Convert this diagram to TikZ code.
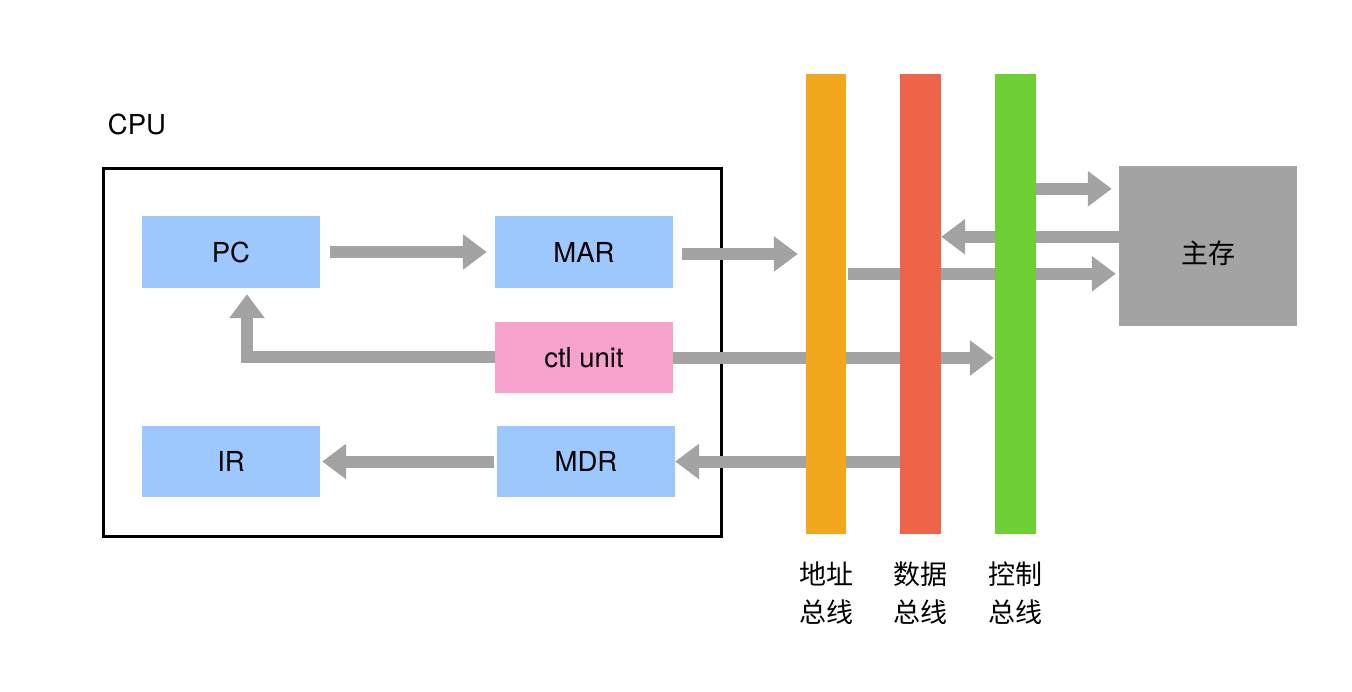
\documentclass[tikz,border=0pt]{standalone}
\usepackage{fontspec}
\setmainfont{TeX Gyre Heros}
\newfontfamily\cjk{Noto Sans CJK SC}
\usetikzlibrary{arrows.meta,calc}
\definecolor{regblue}{HTML}{9CC8FE}
\definecolor{ctlpink}{HTML}{F5A3CC}
\definecolor{busorange}{HTML}{F2A81D}
\definecolor{busred}{HTML}{EE6449}
\definecolor{busgreen}{HTML}{6DCF33}
\definecolor{arrgray}{HTML}{A3A3A3}
\begin{document}
\begin{tikzpicture}[x=1pt,y=-1pt,
  txt/.style={font=\fontsize{27.5}{31}\selectfont},
  reg/.style={draw=none, fill=regblue, minimum width=178pt, minimum height=72pt, inner sep=0pt, txt},
  bus/.style={draw=none, minimum width=40pt, minimum height=460pt, inner sep=0pt},
  arr/.style={draw=arrgray, line width=12pt, -{Triangle[length=24pt,width=34pt]}},
  lbl/.style={font=\fontsize{27}{38}\selectfont\cjk, align=center, inner sep=0pt}
]
\useasboundingbox (0,0) rectangle (1352,692);
\fill[white] (0,0) rectangle (1352,692);

% CPU frame
\node[draw, line width=3pt, minimum width=618.5pt, minimum height=367pt, inner sep=0pt] (cpu) at (412.25,352.5) {};
\node[txt, inner sep=0pt] (cpulbl) at (137,124) {CPU};

% registers
\node[reg] (PC) at (231,252) {PC};
\node[reg] (MAR) at (584,252) {MAR};
\node[reg, fill=ctlpink, minimum height=71pt] (ctl) at (584,357.5) {ctl unit};
\node[reg, minimum height=71pt] (IR) at (231,461.5) {IR};
\node[reg, minimum height=71pt] (MDR) at (586,461.5) {MDR};

% buses (positions used by arrows)
\node[bus] (addr) at (826,304) {};
\node[bus, minimum width=41pt] (data) at (920.5,304) {};
\node[bus, minimum width=41pt] (ctrl) at (1015.5,304) {};

% main memory
\node[fill=arrgray, minimum width=178pt, minimum height=160pt, inner sep=0pt] (mem) at (1208,246) {};
\node[lbl] (memlbl) at (1208,253) {主存};

% arrows
\draw[arr] ([xshift=10pt]PC.east) -- ([xshift=-8pt]MAR.west);
\draw[arr] ($(MAR.east)+(9,2)$) -- ($(MAR.east -| addr.west)+(-8,2)$);
\draw[arr, line join=miter] (ctl.west) -| ($(PC.south)+(16,6)$);
\draw[arr] ($(ctl.east)+(0,0.5)$) -- ($(ctl.east -| ctrl.west)+(-1,0.5)$);
\draw[arr] ([xshift=-3pt]MDR.west) -- ([xshift=2pt]IR.east);
\draw[arr] (MDR.east -| data.west) -- (MDR.east);
\draw[arr] ($(mem.north west -| ctrl.east)+(0,23)$) -- ($(mem.north west)+(-7,23)$);
\draw[arr] ($(mem.north west)+(0,71)$) -- ($(mem.north west -| data.east)+(0,71)$);
\draw[arr] ($(mem.north west -| addr.east)+(2,108)$) -- ($(mem.north west)+(-3,108)$);

% buses drawn over arrows
\fill[busorange] (addr.north west) rectangle (addr.south east);
\fill[busred] (data.north west) rectangle (data.south east);
\fill[busgreen] (ctrl.north west) rectangle (ctrl.south east);

% bus labels
\node[lbl] (addrlbl) at (826,593) {地址\\总线};
\node[lbl] (datalbl) at (920.5,593) {数据\\总线};
\node[lbl] (ctrllbl) at (1015.5,593) {控制\\总线};
\end{tikzpicture}
\end{document}
